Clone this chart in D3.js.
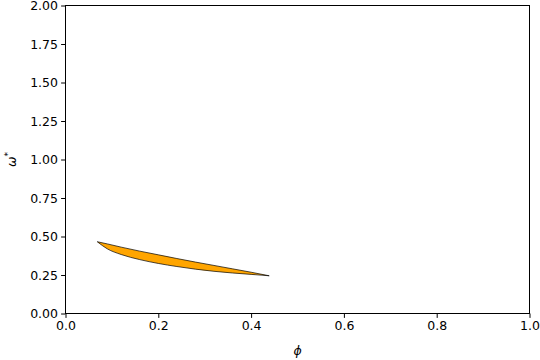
<!DOCTYPE html>
<html>
<head>
<meta charset="utf-8">
<script src="https://cdn.jsdelivr.net/npm/d3@7"></script>
<style>
body { margin: 0; background: #fff; }
svg { display: block; font-family: "DejaVu Sans", sans-serif; }
</style>
</head>
<body>
<svg id="chart" width="540" height="360"></svg>
<script>
const phi   = [0.0685, 0.09, 0.12, 0.16, 0.20, 0.24, 0.28, 0.32, 0.36, 0.40, 0.439];
const upper = [0.466, 0.452, 0.431, 0.405, 0.381, 0.357, 0.334, 0.312, 0.290, 0.268, 0.245];
const lower = [0.466, 0.420, 0.383, 0.350, 0.325, 0.305, 0.288, 0.274, 0.263, 0.254, 0.245];
const xTicks = [0, 0.2, 0.4, 0.6, 0.8, 1.0];
const yTicks = [0, 0.25, 0.5, 0.75, 1.0, 1.25, 1.5, 1.75, 2.0];

const svg = d3.select("#chart");
const L = 65.5, R = 529.5, T = 5.5, B = 313.5;
const x = d3.scaleLinear().domain([0, 1]).range([L, R]);
const y = d3.scaleLinear().domain([0, 2]).range([B, T]);

const pts = phi.map((p, i) => ({p, lo: lower[i], hi: upper[i]}));
const area = d3.area()
  .x(d => x(d.p)).y0(d => y(d.lo)).y1(d => y(d.hi))
  .curve(d3.curveMonotoneX);
svg.append("path").datum(pts).attr("d", area)
  .attr("fill", "#ffa500").attr("stroke", "#000").attr("stroke-width", 0.7);

const fs = "12.5px";
const xAxis = svg.append("g").attr("transform", `translate(0,${B})`)
  .call(d3.axisBottom(x).tickValues(xTicks).tickFormat(d3.format(".1f")).tickSizeOuter(0).tickSize(4.4));
const yAxis = svg.append("g").attr("transform", `translate(${L},0)`)
  .call(d3.axisLeft(y).tickValues(yTicks).tickFormat(d3.format(".2f")).tickSizeOuter(0).tickSize(4.4));
[xAxis, yAxis].forEach(g => {
  g.select(".domain").remove();
  g.selectAll("line").attr("stroke", "#000").attr("stroke-width", 1);
  g.selectAll("text").attr("font-size", fs).attr("font-family", "DejaVu Sans").attr("fill", "#000");
});
xAxis.selectAll("text").attr("dy", "0.71em").attr("y", 8);
yAxis.selectAll("text").attr("x", -7.5);

svg.append("rect").attr("x", L).attr("y", T).attr("width", R - L).attr("height", B - T)
  .attr("fill", "none").attr("stroke", "#000").attr("stroke-width", 1);

svg.append("text").attr("x", (L + R) / 2).attr("y", 355)
  .attr("text-anchor", "middle").attr("font-size", fs).attr("font-style", "italic").text("ϕ");

const yl = svg.append("text").attr("transform", `translate(16,${(T + B) / 2}) rotate(-90)`)
  .attr("text-anchor", "middle").attr("font-size", fs);
yl.append("tspan").attr("font-style", "italic").text("ω");
yl.append("tspan").attr("font-size", "9px").attr("dy", "-0.6em").text("*");
</script>
</body>
</html>
